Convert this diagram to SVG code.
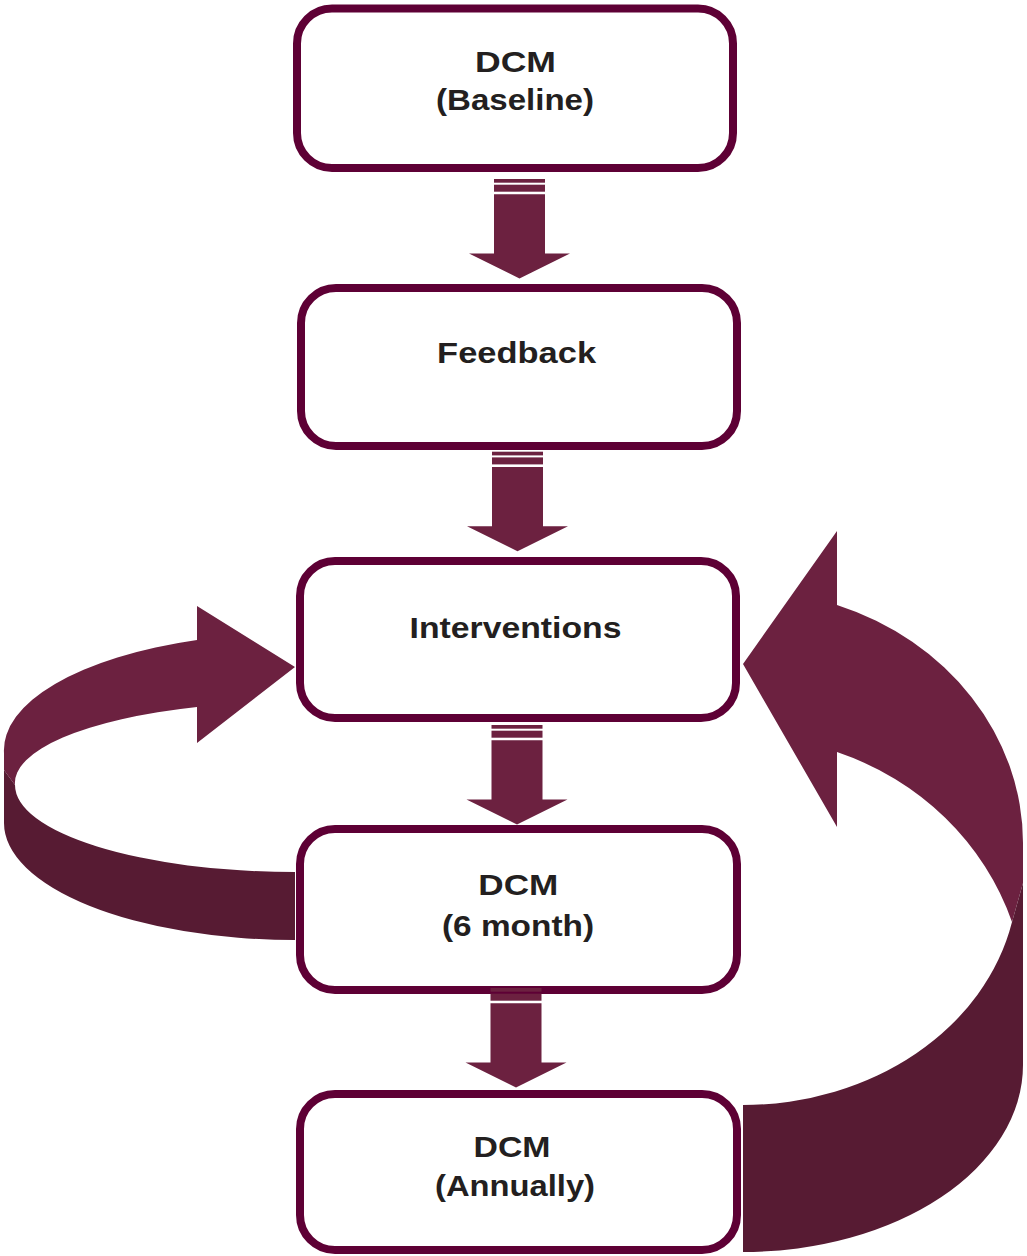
<svg xmlns="http://www.w3.org/2000/svg" width="1027" height="1256" viewBox="0 0 1027 1256">
<style>
.box{fill:#ffffff;stroke:#5e0035;stroke-width:8}
.lbl{font-family:"Liberation Sans",Arial,sans-serif;font-weight:bold;font-size:30px;fill:#231f20;text-anchor:middle}
.light{fill:#6c2140}
.dark{fill:#571b33}
</style>
<defs>
<g id="downArrow">
<rect class="light" x="-25.5" y="0" width="51" height="3.7"/>
<rect class="light" x="-25.5" y="5.7" width="51" height="7"/>
<path class="light" d="M-25.5,15.3 H25.5 V74.5 H50.5 L0,99.5 L-50.5,74.5 H-25.5 Z"/>
</g>
</defs>
<g id="connectors">
<g id="loop-left">
<path class="light" d="M197,606 L295,667 L197,743 L197,707 A280 81 0 0 0 15,785 L4,770 L4,753 A291 117 0 0 1 197,640 Z"/>
<path class="dark" d="M4,770 L4,823 A291 117 0 0 0 295,940 L295,872 A280 87 0 0 1 15,785 Z"/>
</g>
<g id="loop-right">
<path class="light" d="M837,531 L743,664 L837,827 L837,752 A285 271 0 0 1 1012,922 L1023,883 L1023,843 A280 253 0 0 0 837,605 Z"/>
<path class="dark" d="M1023,883 L1023,1065 A280 187 0 0 1 743,1252 L743,1105 A275 231 0 0 0 1012,922 Z"/>
</g>
</g>
<g id="node-baseline">
<rect class="box" x="297" y="8.5" width="436" height="159.5" rx="35"/>
<text class="lbl" x="515.5" y="72" textLength="81" lengthAdjust="spacingAndGlyphs">DCM</text>
<text class="lbl" x="515" y="110" textLength="158" lengthAdjust="spacingAndGlyphs">(Baseline)</text>
</g>
<g id="node-feedback">
<rect class="box" x="301" y="288" width="436" height="158" rx="35"/>
<text class="lbl" x="516.6" y="363" textLength="159" lengthAdjust="spacingAndGlyphs">Feedback</text>
</g>
<g id="node-interventions">
<rect class="box" x="300" y="561" width="436" height="157" rx="35"/>
<text class="lbl" x="515.5" y="638" textLength="212" lengthAdjust="spacingAndGlyphs">Interventions</text>
</g>
<g id="node-6month">
<rect class="box" x="300" y="829" width="437" height="161" rx="35"/>
<text class="lbl" x="518.3" y="895" textLength="80" lengthAdjust="spacingAndGlyphs">DCM</text>
<text class="lbl" x="518" y="936" textLength="152" lengthAdjust="spacingAndGlyphs">(6 month)</text>
</g>
<g id="node-annually">
<rect class="box" x="300" y="1094" width="437" height="156" rx="35"/>
<text class="lbl" x="512" y="1157" textLength="77" lengthAdjust="spacingAndGlyphs">DCM</text>
<text class="lbl" x="515" y="1196" textLength="160" lengthAdjust="spacingAndGlyphs">(Annually)</text>
</g>
<g id="down-arrows">
<use href="#downArrow" transform="translate(519.5,179)"/>
<use href="#downArrow" transform="translate(517.5,451.7)"/>
<use href="#downArrow" transform="translate(517,725)"/>
<use href="#downArrow" transform="translate(516,988)"/>
</g>
</svg>
